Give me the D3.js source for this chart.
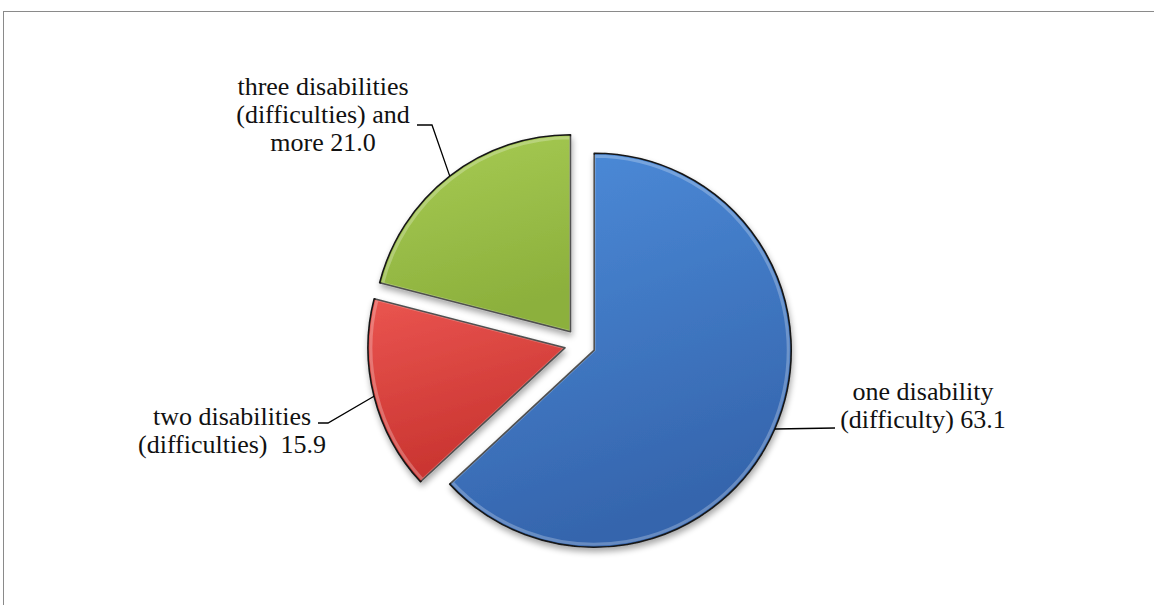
<!DOCTYPE html>
<html>
<head>
<meta charset="utf-8">
<script src="https://cdn.jsdelivr.net/npm/d3@7"></script>
<style>
  body { margin: 0; background: #fff; }
  svg { display: block; }
</style>
</head>
<body>
<svg id="chart" width="1154" height="605"></svg>
<script>
// data
var categories = ['one disability (difficulty)', 'two disabilities (difficulties)', 'three disabilities (difficulties) and more']
var values = [63.1, 15.9, 21.0]
var labelLines = [
  ['one disability', '(difficulty) 63.1'],
  ['two disabilities', '(difficulties)\u00a0\u00a015.9'],
  ['three disabilities', '(difficulties) and', 'more 21.0']
]
var colors = [
  {light: '#4d8ddb', dark: '#3565ad'},
  {light: '#ea5550', dark: '#c8332f'},
  {light: '#a8cc55', dark: '#8cb03c'}
]

// layout
var cx = 580, cy = 344, radius = 197, explode = 15.5
var fontFamily = "'Liberation Serif', 'Times New Roman', Times, 'DejaVu Serif', serif"
// label centre, first baseline, leader elbow
var labelPos = [
  {x: 923, y: 400, elbow: [835, 428], end: [835, 428]},
  {x: 232, y: 425, elbow: [328, 423], end: [318, 423]},
  {x: 323, y: 95, elbow: [432, 125], end: [417, 125]}
]
var lineH = 28

var svg = d3.select('#chart')

// outer frame (cropped at right and bottom)
svg.append('rect')
  .attr('x', 3.5).attr('y', 11.5)
  .attr('width', 1300).attr('height', 800)
  .attr('fill', 'none')
  .attr('stroke', '#8a8a8a')
  .attr('stroke-width', 1)

var defs = svg.append('defs')
var shadow = defs.append('filter').attr('id', 'shadow')
  .attr('x', '-20%').attr('y', '-20%').attr('width', '140%').attr('height', '140%')
shadow.append('feGaussianBlur').attr('in', 'SourceAlpha').attr('stdDeviation', 3)
shadow.append('feOffset').attr('dx', 1).attr('dy', 4).attr('result', 'off')
shadow.append('feComponentTransfer').append('feFuncA').attr('type', 'linear').attr('slope', 0.35)
var merge = shadow.append('feMerge')
merge.append('feMergeNode')
merge.append('feMergeNode').attr('in', 'SourceGraphic')

colors.forEach(function (c, i) {
  var g = defs.append('linearGradient').attr('id', 'grad' + i)
    .attr('x1', 0).attr('y1', 0).attr('x2', 0.3).attr('y2', 1)
  g.append('stop').attr('offset', '0%').attr('stop-color', c.light)
  g.append('stop').attr('offset', '100%').attr('stop-color', c.dark)
})

var pie = d3.pie().sort(null).value(function (d) { return d })
var arcs = pie(values)
var arc = d3.arc().innerRadius(0).outerRadius(radius)
var hiArc = d3.arc().innerRadius(0).outerRadius(radius - 3)

function offset (d, r) {
  var a = (d.startAngle + d.endAngle) / 2
  return [Math.sin(a) * r, -Math.cos(a) * r]
}

var pieG = svg.append('g').attr('transform', 'translate(' + cx + ',' + cy + ')')

var slices = pieG.selectAll('g.slice').data(arcs).enter().append('g')
  .attr('class', 'slice')
  .attr('transform', function (d) {
    var o = offset(d, explode)
    return 'translate(' + o[0] + ',' + o[1] + ')'
  })

slices.append('path')
  .attr('d', arc)
  .attr('fill', function (d, i) { return 'url(#grad' + i + ')' })
  .attr('stroke', '#151515')
  .attr('stroke-width', 1.6)
  .attr('stroke-linejoin', 'round')
  .attr('filter', 'url(#shadow)')

// soft bevel highlight
slices.append('path')
  .attr('d', hiArc)
  .attr('fill', 'none')
  .attr('stroke', 'rgba(255,255,255,0.25)')
  .attr('stroke-width', 3)

// leader lines
pieG.selectAll('path.leader').data(arcs).enter().append('path')
  .attr('class', 'leader')
  .attr('fill', 'none')
  .attr('stroke', '#000')
  .attr('stroke-width', 1.3)
  .attr('d', function (d, i) {
    var o = offset(d, explode)
    var e = offset(d, radius)
    var p = labelPos[i]
    var start = [o[0] + e[0], o[1] + e[1]]
    return d3.line()([start, [p.elbow[0] - cx, p.elbow[1] - cy], [p.end[0] - cx, p.end[1] - cy]])
  })

// labels
var labels = svg.selectAll('text.lbl').data(labelLines).enter().append('text')
  .attr('class', 'lbl')
  .attr('text-anchor', 'middle')
  .attr('font-family', fontFamily)
  .attr('font-size', 26)
  .attr('fill', '#111')
  .style('font-family', fontFamily)
  .attr('x', function (d, i) { return labelPos[i].x })
  .attr('y', function (d, i) { return labelPos[i].y })

labels.selectAll('tspan').data(function (d, i) { return d.map(function (t) { return {t: t, i: i} }) })
  .enter().append('tspan')
  .attr('x', function (d) { return labelPos[d.i].x })
  .attr('dy', function (d, j) { return j === 0 ? 0 : lineH })
  .text(function (d) { return d.t })
</script>
</body>
</html>
